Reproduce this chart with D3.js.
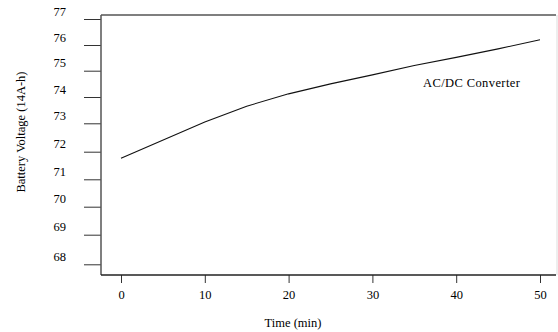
<!DOCTYPE html>
<html>
<head>
<meta charset="utf-8">
<script src="https://cdnjs.cloudflare.com/ajax/libs/d3/7.8.5/d3.min.js"></script>
<style>
  body { margin: 0; background: #fff; }
  svg text { font-family: "Liberation Serif", "Times New Roman", serif; fill: #000; }
</style>
</head>
<body>
<div id="chart"></div>
<script>
// DATA
var times = [0, 10, 15, 20, 25, 30, 35, 40, 45, 50];
var voltage = [71.76, 73.05, 73.65, 74.12, 74.5, 74.84, 75.2, 75.52, 75.85, 76.2];
var xTicks = [0, 10, 20, 30, 40, 50];
var yTicks = [68, 69, 70, 71, 72, 73, 74, 75, 76, 77];
var seriesName = "AC/DC Converter";

// SVG SETUP
var width = 558, height = 332;
var frame = { left: 101, top: 15, right: 556, bottom: 275 };

var svg = d3.select("#chart")
  .append("svg")
  .attr("width", width)
  .attr("height", height);

// SCALES (the original scan has slightly uneven tick spacing, so y is piecewise)
var x = d3.scaleLinear().domain([0, 50]).range([121, 540]);
var y = d3.scaleLinear()
  .domain(yTicks)
  .range([264.3, 234.7, 206.7, 179.3, 151.7, 123.3, 97, 70.7, 45, 19]);

// FRAME: top line, faint right edge
svg.append("line")
  .attr("x1", frame.left).attr("x2", frame.right)
  .attr("y1", frame.top).attr("y2", frame.top)
  .attr("stroke", "#555").attr("stroke-width", 1.3);
svg.append("line")
  .attr("x1", frame.right + 1).attr("x2", frame.right + 1)
  .attr("y1", frame.top).attr("y2", frame.bottom)
  .attr("stroke", "#ddd");

// Y AXIS (ticks point outward, long)
var yAxis = svg.append("g")
  .attr("transform", "translate(" + frame.left + ",0)")
  .call(d3.axisLeft(y).tickValues(yTicks).tickSize(17).tickPadding(18));
yAxis.select(".domain").remove();
yAxis.append("line")
  .attr("x1", 0).attr("x2", 0)
  .attr("y1", frame.top).attr("y2", frame.bottom)
  .attr("stroke", "#555").attr("stroke-width", 1.5);
yAxis.selectAll(".tick line").attr("stroke", "#333");
yAxis.selectAll(".tick text")
  .style("font-size", "12.5px")
  .attr("dy", "-0.3em")
  .style("font-family", "'Liberation Serif', serif");

// X AXIS
var xAxis = svg.append("g")
  .attr("transform", "translate(0," + frame.bottom + ")")
  .call(d3.axisBottom(x).tickValues(xTicks).tickSize(8).tickPadding(7));
xAxis.select(".domain").remove();
xAxis.append("line")
  .attr("x1", frame.left).attr("x2", frame.right)
  .attr("y1", 0).attr("y2", 0)
  .attr("stroke", "#222").attr("stroke-width", 1.3);
xAxis.selectAll(".tick line").attr("stroke", "#333");
xAxis.selectAll(".tick text")
  .style("font-size", "12.5px")
  .style("font-family", "'Liberation Serif', serif");

// LINE
var line = d3.line()
  .x(function(d, i) { return x(times[i]); })
  .y(function(d) { return y(d); });

svg.append("path")
  .datum(voltage)
  .attr("fill", "none")
  .attr("stroke", "#111")
  .attr("stroke-width", 1.1)
  .attr("d", line);

// SERIES LABEL
svg.append("text")
  .attr("x", 423)
  .attr("y", 87)
  .style("font-size", "12.5px")
  .style("letter-spacing", "0.4px")
  .text(seriesName);

// AXIS TITLES
svg.append("text")
  .attr("x", 293)
  .attr("y", 327)
  .attr("text-anchor", "middle")
  .style("font-size", "12.5px")
  .text("Time (min)");

svg.append("text")
  .attr("transform", "translate(25,132) rotate(-90)")
  .attr("text-anchor", "middle")
  .style("font-size", "12.5px")
  .text("Battery Voltage (14A-h)");
</script>
</body>
</html>
